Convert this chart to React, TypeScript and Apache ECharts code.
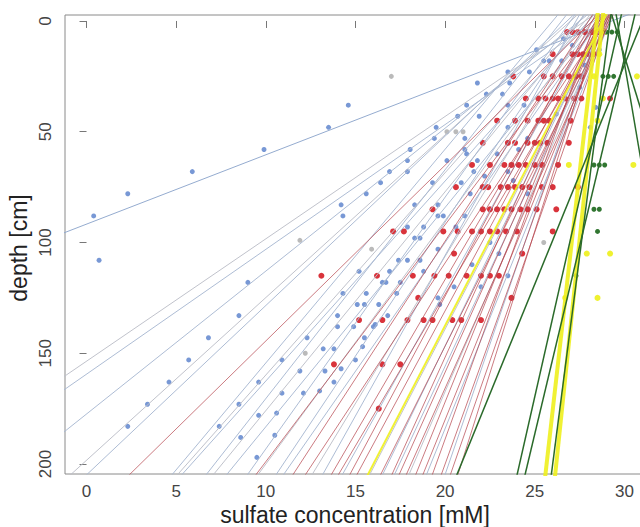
import React, { useEffect, useRef } from "react";
import * as echarts from "echarts";

const X_TICKS = [0, 5, 10, 15, 20, 25, 30];
const Y_TICKS = [0, 50, 100, 150, 200];
const X_TITLE = "sulfate concentration [mM]";
const Y_TITLE = "depth [cm]";

// regression lines: concentration [mM] at depth 0 cm and at depth 200 cm
const BLUE_LINE_TOP = [29.3, 27.8, 28.3, 27.5, 27.0, 26.8, 26.0, 27.5, 28.0, 26.5, 27.8, 28.5, 27.0, 28.2, 27.5, 28.6, 28.0, 27.3, 28.4, 28.9, 28.8, 29.0, 29.0, 29.2, 28.7];
const BLUE_LINE_BOTTOM = [-34.6, -8.4, -7.2, -3.5, -0.23, 0.64, 5.27, 5.6, 5.85, 7.14, 7.56, 8.3, 9.4, 10.0, 10.97, 11.4, 12.94, 13.5, 14.6, 16.1, 16.8, 17.45, 18.24, 19.2, 20.2];

const RED_LINE_TOP = [28.2, 28.6, 28.0, 28.9, 28.4, 29.0, 28.2, 28.7, 29.1, 28.5, 28.8, 29.2, 28.6, 29.0, 28.4, 28.9, 29.1, 28.7];
const RED_LINE_BOTTOM = [3.0, 9.9, 11.9, 12.6, 14.0, 14.4, 15.0, 15.4, 16.7, 17.3, 17.7, 18.1, 18.6, 19.0, 19.5, 20.0, 20.5, 20.9];

const YELLOW_LINE_TOP = [28.8, 28.46, 28.77];
const YELLOW_LINE_BOTTOM = [16.0, 25.66, 26.2];
const YELLOW_LINE_WIDTH = [2, 4, 4];

const GREEN_LINE_TOP = [31.0, 29.75, 30.5, 29.2, 29.4, 29.6];
const GREEN_LINE_BOTTOM = [20.9, 24.15, 24.6, 26.0, 37.0, 33.8];

// measured points [concentration, depth]
const BLUE_POINTS: number[][] = [
  [0.4, 88], [0.7, 108], [2.3, 78], [5.9, 68], [9.9, 58], [13.5, 48], [14.6, 38],
  [2.3, 183], [3.4, 173], [4.6, 163], [5.7, 153], [6.8, 143], [7.4, 183],
  [9.0, 118], [8.5, 133], [12.3, 143], [10.9, 153], [9.6, 163], [8.5, 173], [9.5, 197],
  [10.5, 187], [10.6, 177], [9.6, 178], [8.6, 188], [10.9, 168], [11.9, 158], [12.1, 168],
  [13.0, 167], [13.3, 158], [13.8, 163], [14.2, 157], [13.8, 148], [13.2, 148], [15.0, 153],
  [15.4, 147], [15.5, 143], [14.9, 138], [14.0, 138], [16.1, 137], [16.3, 128], [14.0, 133], [16.8, 133],
  [18.05, 58], [20.1, 63], [21.2, 60], [17.9, 63], [16.9, 68], [17.9, 68], [16.4, 73], [15.6, 78],
  [19.3, 73], [14.2, 83], [14.3, 88], [18.3, 83], [19.6, 83], [19.6, 88], [19.9, 88], [21.1, 88],
  [20.9, 73], [21.4, 78], [22.2, 70], [17.9, 93], [18.8, 93], [18.3, 98], [18.6, 98], [20.6, 93],
  [19.6, 103], [17.4, 108], [17.9, 108], [18.6, 108], [15.2, 113], [16.9, 113], [18.8, 113],
  [16.5, 118], [16.7, 118], [17.5, 118], [14.3, 123], [15.6, 123], [17.3, 123], [15.1, 128],
  [15.5, 128], [19.6, 125], [16.0, 138], [19.7, 128],
  [23.5, 23], [21.8, 28], [22.3, 33], [23.2, 33], [23.6, 28], [21.2, 38], [20.7, 43], [21.9, 43],
  [23.5, 38], [19.5, 48], [19.4, 53], [21.1, 53], [26.6, 8], [25.1, 13], [25.5, 18], [25.8, 18],
  [26.5, 18], [27.1, 11], [24.7, 23], [24.4, 38], [23.5, 48], [24.6, 53], [21.1, 58], [21.8, 63],
  [22.9, 60], [23.5, 68], [24.1, 58], [23.8, 72], [24.6, 78], [21.6, 68], [28.1, 48], [26.2, 42],
  [28.4, 39], [22.5, 100], [23.0, 105], [21.5, 110], [22.0, 120], [20.5, 120], [23.5, 115],
  [27.5, 30], [27.8, 20], [28.6, 13],
];

const GRAY_POINTS: number[][] = [
  [17.0, 25], [20.1, 50], [20.6, 50], [21.0, 50], [11.9, 99], [15.9, 103], [12.2, 150], [27.8, 5], [25.5, 100],
];

const RED_ROW_DEPTHS = [5, 15, 25, 35, 45, 55, 65, 75, 85, 95, 105, 115, 125, 135, 155, 175];
const RED_ROW_VALUES: number[][] = [
  [26.8, 27.1, 27.4, 27.8, 28.2, 28.5],
  [26.0, 27.1, 27.4, 27.7, 28.0, 28.3],
  [23.8, 25.5, 26.0, 26.5, 26.9, 27.3, 27.6],
  [24.5, 25.2, 25.6, 26.0, 26.3, 26.7, 27.2, 27.6, 29.2],
  [22.9, 23.9, 24.6, 25.2, 25.5, 25.8, 27.0],
  [22.1, 23.5, 23.9, 24.6, 25.0, 25.3, 25.7, 26.9],
  [21.5, 22.5, 23.3, 23.7, 24.1, 24.5, 25.0, 25.4, 26.3],
  [20.6, 22.1, 22.4, 23.1, 23.5, 23.9, 24.3, 24.7, 25.4, 26.0, 27.4],
  [19.3, 22.1, 22.5, 22.9, 23.3, 23.7, 24.2, 24.6, 25.1, 26.2],
  [17.1, 17.7, 19.9, 20.7, 21.5, 22.0, 22.5, 22.9, 23.4, 24.0, 26.0],
  [20.5, 24.3],
  [13.1, 16.2, 18.2, 19.4, 20.2, 21.2, 22.0, 22.5, 23.0],
  [18.5, 23.7],
  [15.2, 16.5, 17.9, 18.8, 19.3, 20.4, 20.9, 22.0],
  [13.8, 16.5, 17.5],
  [16.3],
];

const YELLOW_POINTS: number[][] = [
  [28.9, 5], [28.6, 15], [28.3, 25], [30.7, 25], [28.8, 35], [28.5, 45], [26.9, 65], [30.5, 65],
  [27.9, 105], [29.2, 105], [26.7, 125], [28.5, 125],
];

const GREEN_POINTS: number[][] = [
  [29.0, 5], [29.3, 5], [29.6, 5], [28.8, 25], [29.1, 25], [29.4, 25], [28.3, 65], [28.6, 65],
  [28.9, 65], [28.3, 85], [28.6, 85], [28.5, 95], [27.3, 115],
];

function lineSeries(top: number, bottom: number, color: string, width: number, opacity: number) {
  const at = (d: number) => top + ((bottom - top) * d) / 200;
  return {
    type: "line",
    data: [
      [at(-10), -10],
      [at(215), 215],
    ],
    symbol: "none",
    silent: true,
    clip: true,
    lineStyle: { color, width, opacity },
  };
}

function scatter(data: number[][], color: string, size: number) {
  return {
    type: "scatter",
    data,
    symbolSize: size,
    silent: true,
    itemStyle: { color, opacity: 0.92 },
  };
}

export default function App() {
  const ref = useRef<HTMLDivElement>(null);
  useEffect(() => {
    if (!ref.current) return;
    const chart = echarts.init(ref.current, undefined, { renderer: "svg" });
    const series: any[] = [];
    BLUE_LINE_TOP.forEach((t, i) => {
      const color = i === 0 ? "#8ea6cc" : i % 3 === 1 ? "#bdbfc8" : "#a9b8d2";
      series.push(lineSeries(t, BLUE_LINE_BOTTOM[i], color, 1, 0.95));
    });
    RED_LINE_TOP.forEach((t, i) => {
      series.push(lineSeries(t, RED_LINE_BOTTOM[i], "#b5434c", 1, 0.7));
    });
    YELLOW_LINE_TOP.forEach((t, i) => {
      series.push(lineSeries(t, YELLOW_LINE_BOTTOM[i], "#eef01e", YELLOW_LINE_WIDTH[i], 0.9));
    });
    GREEN_LINE_TOP.forEach((t, i) => {
      series.push(lineSeries(t, GREEN_LINE_BOTTOM[i], "#2a6a2a", 1.5, 1));
    });
    const redPoints: number[][] = [];
    RED_ROW_DEPTHS.forEach((d, i) => RED_ROW_VALUES[i].forEach((x) => redPoints.push([x, d])));
    series.push(scatter(GRAY_POINTS, "#b4b4b4", 5));
    series.push(scatter(BLUE_POINTS, "#6d8fd1", 5));
    series.push(scatter(redPoints, "#d6222a", 6));
    series.push(scatter(YELLOW_POINTS, "#eef01e", 6));
    series.push(scatter(GREEN_POINTS, "#1f6a1f", 5));

    const font = "Liberation Sans";
    chart.setOption({
      animation: false,
      backgroundColor: "#ffffff",
      grid: {
        left: 65,
        top: 15,
        width: 615,
        height: 459,
        show: true,
        borderColor: "#8a8a8a",
        borderWidth: 1,
        backgroundColor: "transparent",
      },
      xAxis: {
        type: "value",
        min: -1.2,
        max: 33.1,
        position: "bottom",
        axisLine: { show: false },
        splitLine: { show: false },
        axisTick: { show: true, inside: false, length: 7, lineStyle: { color: "#777" }, customValues: X_TICKS },
        axisLabel: { customValues: X_TICKS, fontSize: 17, color: "#444", margin: 9, fontFamily: font },
      },
      yAxis: {
        type: "value",
        inverse: true,
        min: -2.7,
        max: 204.5,
        axisLine: { show: false },
        splitLine: { show: false },
        axisTick: { show: true, inside: false, length: 7, lineStyle: { color: "#777" }, customValues: Y_TICKS },
        axisLabel: { show: false },
      },
      series,
    });

    // y tick labels (rotated, R style), placed through the axis scale
    const yLabels = Y_TICKS.map((v) => {
      const p = chart.convertToPixel({ yAxisIndex: 0 }, v) as number;
      return {
        type: "text",
        x: 45,
        y: p,
        rotation: Math.PI / 2,
        style: { text: String(v), font: `17px "${font}"`, fill: "#444", textAlign: "center", textVerticalAlign: "middle" },
      };
    });
    chart.setOption({
      graphic: [
        ...yLabels,
        {
          type: "text",
          x: 355,
          y: 515,
          style: { text: X_TITLE, font: `23px "${font}"`, fill: "#222", textAlign: "center", textVerticalAlign: "middle" },
        },
        {
          type: "text",
          x: 19,
          y: 248,
          rotation: Math.PI / 2,
          style: { text: Y_TITLE, font: `23px "${font}"`, fill: "#222", textAlign: "center", textVerticalAlign: "middle" },
        },
      ],
    });
    return () => chart.dispose();
  }, []);
  return (
    <div style={{ position: "fixed", left: 0, top: 0, width: 640, height: 527, overflow: "hidden", background: "#fff" }}>
      <div ref={ref} style={{ width: 700, height: 527 }} />
    </div>
  );
}
